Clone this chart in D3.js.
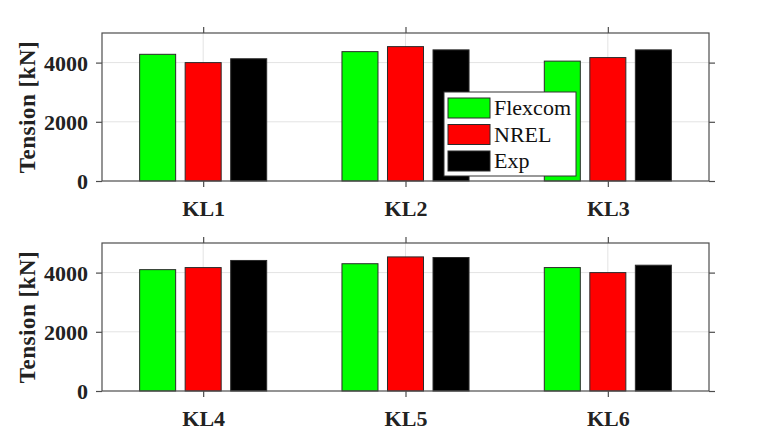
<!DOCTYPE html>
<html>
<head>
<meta charset="utf-8">
<script src="https://cdn.jsdelivr.net/npm/d3@7/dist/d3.min.js"></script>
<style>
  body { margin: 0; background: #fff; }
  svg { display: block; }
</style>
</head>
<body>
<div id="chart"></div>
<script>
// data
const series = ["Flexcom", "NREL", "Exp"];
const colors = ["#00ff00", "#ff0000", "#000000"];
const topCats = ["KL1", "KL2", "KL3"];
const bottomCats = ["KL4", "KL5", "KL6"];
const flexcomTop = [4280, 4370, 4050];
const nrelTop = [4000, 4540, 4170];
const expTop = [4130, 4430, 4430];
const flexcomBottom = [4100, 4300, 4170];
const nrelBottom = [4170, 4530, 4000];
const expBottom = [4410, 4510, 4250];
const yTicks = [0, 2000, 4000];

const W = 784, H = 441;
const serif = "'Liberation Serif', 'Times New Roman', serif";
const axisColor = "#4d4d4d";

const svg = d3.select("#chart").append("svg")
    .attr("width", W)
    .attr("height", H);

function drawPanel(cats, vals, top, bottom, showLegend) {
    const left = 102, right = 709;

    const x = d3.scaleLinear().domain([0.5, cats.length + 0.5]).range([left, right]);
    const y = d3.scaleLinear().domain([0, 5000]).range([bottom, top]);

    const g = svg.append("g");

    // grid
    g.selectAll("line.hgrid")
        .data(yTicks.slice(1))
        .enter().append("line")
        .attr("x1", left).attr("x2", right)
        .attr("y1", d => y(d)).attr("y2", d => y(d))
        .attr("stroke", "#e3e3e3").attr("stroke-width", 1);

    g.selectAll("line.vgrid")
        .data(cats)
        .enter().append("line")
        .attr("x1", (d, i) => x(i + 1)).attr("x2", (d, i) => x(i + 1))
        .attr("y1", top).attr("y2", bottom)
        .attr("stroke", "#e3e3e3").attr("stroke-width", 1);

    // bars
    const offset = 0.225, barW = 0.178;
    cats.forEach((c, i) => {
        vals.forEach((s, j) => {
            const cx = i + 1 + (j - 1) * offset;
            g.append("rect")
                .attr("x", x(cx - barW / 2))
                .attr("width", x(cx + barW / 2) - x(cx - barW / 2))
                .attr("y", y(s[i]))
                .attr("height", y(0) - y(s[i]))
                .attr("fill", colors[j])
                .attr("stroke", "#2b2b2b")
                .attr("stroke-width", 1);
        });
    });

    // box
    g.append("rect")
        .attr("x", left).attr("y", top)
        .attr("width", right - left).attr("height", bottom - top)
        .attr("fill", "none")
        .attr("stroke", axisColor).attr("stroke-width", 1.2);

    // axes with outward ticks
    const yAxisL = d3.axisLeft(y).tickValues(yTicks).tickSize(6).tickFormat(d3.format("d"));
    const yAxisR = d3.axisRight(y).tickValues(yTicks).tickSize(6).tickFormat("");
    const xAxisB = d3.axisBottom(x).tickValues(d3.range(1, cats.length + 1)).tickSize(6)
        .tickFormat(d => cats[d - 1]);
    const xAxisT = d3.axisTop(x).tickValues(d3.range(1, cats.length + 1)).tickSize(6).tickFormat("");

    const ax = [
        g.append("g").attr("transform", `translate(${left},0)`).call(yAxisL),
        g.append("g").attr("transform", `translate(${right},0)`).call(yAxisR),
        g.append("g").attr("transform", `translate(0,${bottom})`).call(xAxisB),
        g.append("g").attr("transform", `translate(0,${top})`).call(xAxisT)
    ];
    ax.forEach(a => {
        a.select(".domain").remove();
        a.selectAll(".tick line").attr("stroke", axisColor).attr("stroke-width", 1.2);
        a.selectAll("text")
            .attr("fill", "#222")
            .style("font-family", serif)
            .style("font-weight", "bold")
            .style("font-size", "22px");
    });
    ax[0].selectAll("text").attr("x", -14).attr("dy", "0.36em");
    ax[2].selectAll("text").attr("y", 19).attr("dy", "0.71em");

    // y label
    g.append("text")
        .attr("transform", `translate(35,${(top + bottom) / 2}) rotate(-90)`)
        .attr("text-anchor", "middle")
        .attr("fill", "#222")
        .style("font-family", serif)
        .style("font-weight", "bold")
        .style("font-size", "23px")
        .style("letter-spacing", "0.5px")
        .text("Tension [kN]");

    if (showLegend) {
        const lx = 444, ly = 92, lw = 132, lh = 84;
        const lg = g.append("g");
        lg.append("rect")
            .attr("x", lx).attr("y", ly).attr("width", lw).attr("height", lh)
            .attr("fill", "#fff").attr("stroke", "#333").attr("stroke-width", 1);
        series.forEach((s, j) => {
            const yy = ly + 6 + j * 26.5;
            lg.append("rect")
                .attr("x", lx + 4).attr("y", yy)
                .attr("width", 42).attr("height", 20)
                .attr("fill", colors[j])
                .attr("stroke", "#2b2b2b").attr("stroke-width", 1);
            lg.append("text")
                .attr("x", lx + 50).attr("y", yy + 17)
                .attr("fill", "#111")
                .style("font-family", serif)
                .style("font-size", "22px")
                .text(s);
        });
    }
}

drawPanel(topCats, [flexcomTop, nrelTop, expTop], 33, 181, true);
drawPanel(bottomCats, [flexcomBottom, nrelBottom, expBottom], 243, 391, false);
</script>
</body>
</html>
